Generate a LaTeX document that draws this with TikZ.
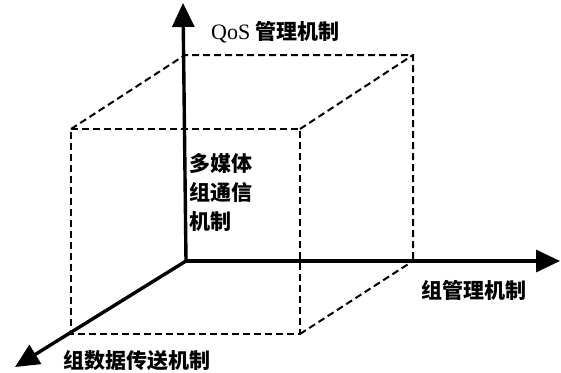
\documentclass[tikz,border=0pt]{standalone}
\usepackage{fontspec}
\setmainfont{Liberation Serif}
\newfontfamily\cjk{Noto Sans CJK SC}
\usetikzlibrary{arrows.meta}
\begin{document}
\begin{tikzpicture}[x=1pt,y=-1pt,
  axis/.style={line width=3.4pt,-{Triangle[length=24pt,width=22pt]}},
  edge/.style={line width=2pt,dash pattern=on 7pt off 4pt},
  lbl/.style={inner sep=0pt,font=\fontsize{21}{29}\selectfont\cjk\bfseries}]
\useasboundingbox (0,0) rectangle (561,372);
% axis points
\coordinate (O) at (186,261);
\coordinate (Ytip) at (183,3);
\coordinate (Xtip) at (560,261);
\coordinate (Ztip) at (15,367);
% box corners (front face)
\coordinate (F1) at (71,129);
\coordinate (F2) at (300,129);
\coordinate (F3) at (300,334);
\coordinate (F4) at (71,334);
% back face
\coordinate (B1) at (185,55);
\coordinate (B2) at (413,55);
\coordinate (B3) at (413,261);
% dashed box
\draw[edge] (F1) -- (F2) -- (F3) -- (F4) -- cycle;
\draw[edge] (F1) -- (B1) -- (B2) -- (B3);
\draw[edge] (F2) -- (B2);
\draw[edge] (F3) -- (B3);
% axes
\draw[axis] (O) -- (Ytip);
\draw[axis] (O) -- (Xtip);
\draw[axis] (O) -- (Ztip);
% labels
\node[lbl,anchor=west] (qos) at (211,32) {{\fontsize{22}{22}\selectfont\rmfamily\mdseries QoS}\ 管理机制};
\node[lbl,anchor=north west,align=left] (mm) at (189,153) {多媒体\\组通信\\机制};
\node[lbl,anchor=west] (gm) at (421,290) {组管理机制};
\node[lbl,anchor=west] (gd) at (63,361) {组数据传送机制};
\end{tikzpicture}
\end{document}
